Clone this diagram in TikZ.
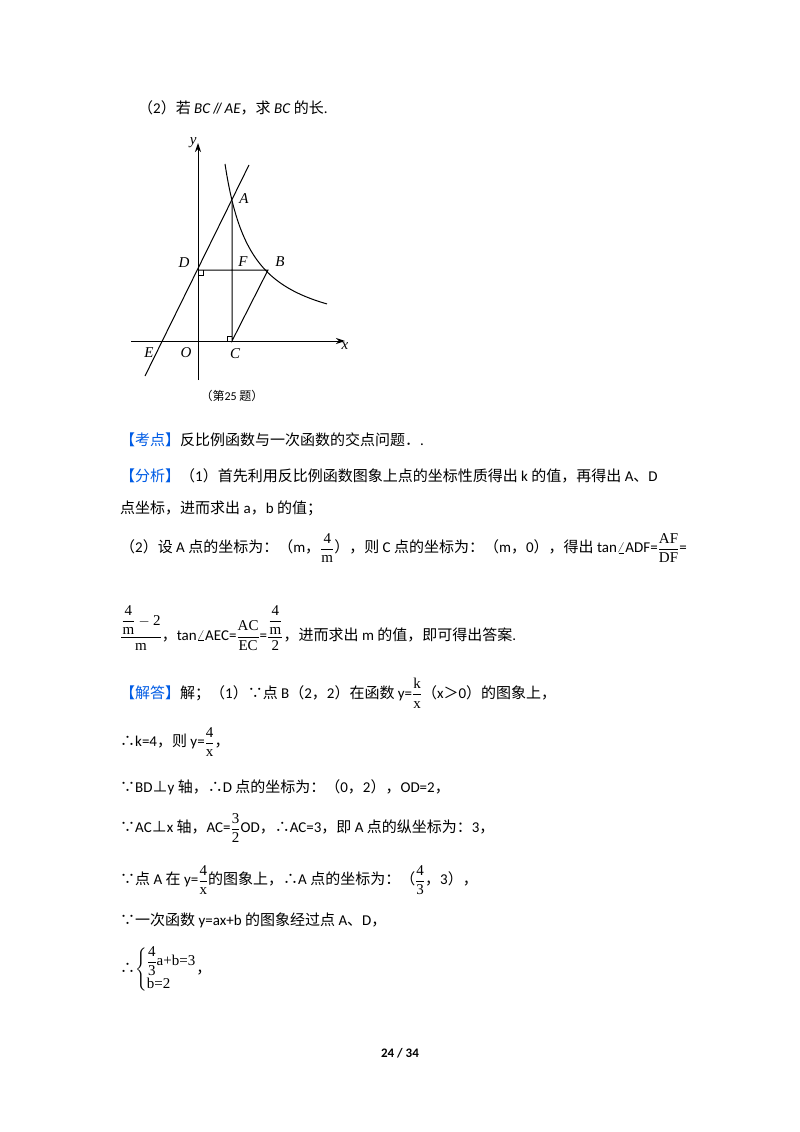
\documentclass[tikz,border=0pt]{standalone}
\usepackage{amsmath}
\usepackage{fontspec}
\setmainfont{Carlito}
\newfontfamily\cjk{Noto Sans CJK SC}
\newfontfamily\tms{Liberation Serif}
\usetikzlibrary{arrows.meta}
\tikzset{
 ln/.style={anchor=west,inner sep=0pt,font=\fontsize{15}{18}\selectfont},
 fig/.style={line width=1pt},
 lab/.style={font=\fontsize{15}{18}\selectfont\tms\itshape,inner sep=1pt},
}
\newcommand{\C}[1]{{\cjk #1}}
\newcommand{\R}[1]{\text{\tms #1}}
\newcommand{\F}[2]{$\dfrac{\R{#1}}{\R{#2}}$}
\begin{document}
\begin{tikzpicture}[x=1pt,y=-1pt]
\fill[white] (0,0) rectangle (800,1132);
\useasboundingbox (0,0) rectangle (800,1132);
% figure
\coordinate (O) at (198,341);
\draw[fig,-{Stealth[length=9pt,width=6pt]}] (131,341) -- (345,341) node[lab,below] {x};
\draw[fig,-{Stealth[length=9pt,width=6pt]}] (198,380) -- (198,143) node[lab,left] {y};
\draw[fig] (145,376) -- (249,165);
\draw[fig] plot[domain=27:129,samples=60,smooth] ({198+\x},{341-4780/\x});
\coordinate (A) at (232,202);
\coordinate (C) at (232,341);
\coordinate (D) at (198,270);
\coordinate (B) at (268,270);
\draw[fig] (A) -- (C) -- (B) -- (D);
\draw[line width=0.8pt] (198,275) -- (203,275) -- (203,270);
\draw[line width=0.8pt] (227,341) -- (227,336) -- (232,336);
\node[lab] at (244,199) {A};
\node[lab] at (280,262) {B};
\node[lab] at (235,354) {C};
\node[lab] at (184,263) {D};
\node[lab] at (243,262) {F};
\node[lab] at (149,353) {E};
\node[lab] at (186,353) {O};
\node[font=\fontsize{12}{14}\selectfont] at (232,396) {\C{（第}25 \C{题）}};
% text
\node[ln] at (138,108) {\C{（}2\C{）若} \textit{BC}\,/\!/\,\textit{AE}\C{，求} \textit{BC} \C{的长}.};
\node[ln] at (120,440) {\C{\textcolor{blue!60!cyan!90!black}{【考点】}反比例函数与一次函数的交点问题．}.};
\node[ln] at (120,476) {\C{\textcolor{blue!60!cyan!90!black}{【分析】}（}1\C{）首先利用反比例函数图象上点的坐标性质得出} k \C{的值，再得出} A\C{、}D};
\node[ln] at (120,508) {\C{点坐标，进而求出} a\C{，}b \C{的值；}};
\node[ln] at (120,548) {\C{（}2\C{）设} A \C{点的坐标为：（}m\C{，}\F{4}{m}\C{），则} C \C{点的坐标为：（}m\C{，}0\C{），得出} tan$\angle$ADF=\F{AF}{DF}=};
\node[ln] at (120,628) {$\dfrac{\dfrac{\R{4}}{\R{m}}-\R{2}}{\R{m}}$\C{，}tan$\angle$AEC=\F{AC}{EC}=$\dfrac{\dfrac{\R{4}}{\R{m}}}{\R{2}}$\C{，进而求出} m \C{的值，即可得出答案}.};
\node[ln] at (120,693) {\C{\textcolor{blue!60!cyan!90!black}{【解答】}解；（}1\C{）∵点} B\C{（}2\C{，}2\C{）在函数} y=\F{k}{x}\C{（}x\C{＞}0\C{）的图象上，}};
\node[ln] at (120,742) {\C{∴}k=4\C{，则} y=\F{4}{x}\C{，}};
\node[ln] at (120,787) {\C{∵}BD\C{⊥}y \C{轴，∴}D \C{点的坐标为：（}0\C{，}2\C{），}OD=2\C{，}};
\node[ln] at (120,828) {\C{∵}AC\C{⊥}x \C{轴，}AC=\F{3}{2}OD\C{，∴}AC=3\C{，即} A \C{点的纵坐标为：}3\C{，}};
\node[ln] at (120,880) {\C{∵点} A \C{在} y=\F{4}{x}\C{的图象上，∴}A \C{点的坐标为：（}\F{4}{3}\C{，}3\C{），}};
\node[ln] at (120,920) {\C{∵一次函数} y=ax+b \C{的图象经过点} A\C{、}D\C{，}};
\node[ln] at (120,970) {\C{∴}$\left\{\begin{array}{@{}l@{}}\dfrac{\R{4}}{\R{3}}\R{a+b=3}\\[2pt] \R{b=2}\end{array}\right.$\C{，}};
\node[font=\fontsize{13}{15}\selectfont\bfseries] at (400,1053) {24 / 34};
\end{tikzpicture}
\end{document}
